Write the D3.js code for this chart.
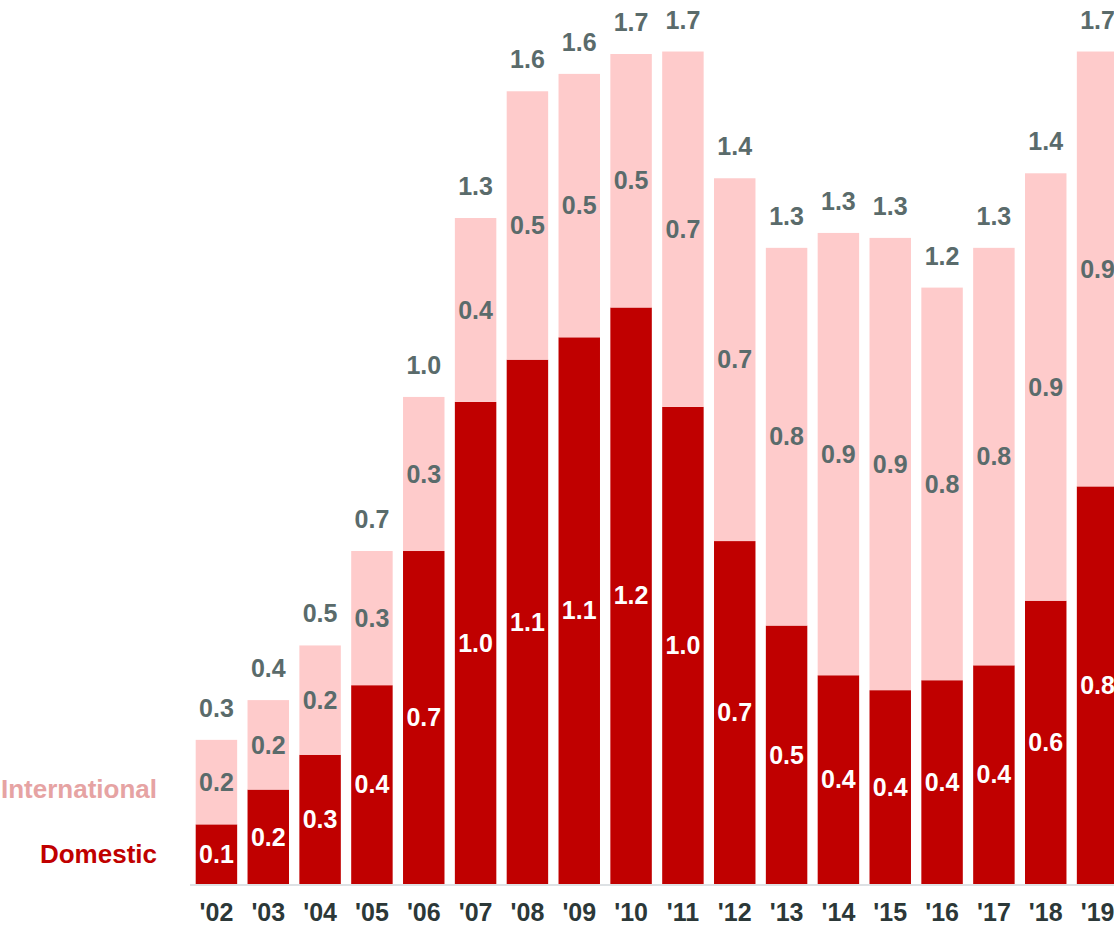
<!DOCTYPE html>
<html>
<head>
<meta charset="utf-8">
<script src="https://cdn.jsdelivr.net/npm/d3@7"></script>
<style>
  html, body { margin: 0; padding: 0; background: #fff; }
  svg { display: block; }
  text { font-family: "Liberation Sans", Arial, sans-serif; font-weight: bold; }
</style>
</head>
<body>
<svg id="chart" width="1114" height="925"></svg>
<script>
const years = ["'02","'03","'04","'05","'06","'07","'08","'09","'10","'11","'12","'13","'14","'15","'16","'17","'18","'19"];
const domestic = [0.12,0.19,0.26,0.40,0.67,0.97,1.055,1.10,1.16,0.96,0.69,0.52,0.42,0.39,0.41,0.44,0.57,0.80];
const international = [0.17,0.18,0.22,0.27,0.31,0.37,0.54,0.53,0.51,0.715,0.73,0.76,0.89,0.91,0.79,0.84,0.86,0.875];
const seriesNames = ["Domestic", "International"];

const W = 1114, H = 925;
const baseY = 884;
const svg = d3.select("#chart");

const x = d3.scaleBand().domain(years).range([195.7, 1118.3]).paddingInner(0.2).paddingOuter(0);
const y = d3.scaleLinear().domain([0, 1]).range([baseY, baseY - 497]);

const colors = { Domestic: "#c00000", International: "#fecbcb" };
const fmt = d3.format(".1f");
const data = years.map((yr, i) => ({ year: yr, Domestic: domestic[i], International: international[i] }));
const stack = d3.stack().keys(seriesNames)(data);
const FS = 25;

// bars
const g = svg.append("g");
stack.forEach(layer => {
  g.selectAll(null).data(layer).enter().append("rect")
    .attr("x", d => x(d.data.year))
    .attr("width", x.bandwidth())
    .attr("y", d => y(d[1]))
    .attr("height", d => y(d[0]) - y(d[1]))
    .attr("fill", colors[layer.key]);
});

// segment labels
stack.forEach(layer => {
  g.selectAll(null).data(layer).enter().append("text")
    .attr("x", d => x(d.data.year) + x.bandwidth() / 2)
    .attr("y", d => (y(d[0]) + y(d[1])) / 2)
    .attr("dy", "0.35em")
    .attr("text-anchor", "middle")
    .attr("font-size", FS)
    .attr("fill", layer.key === "Domestic" ? "#ffffff" : "#5a6b6b")
    .text(d => fmt(d[1] - d[0]));
});

// totals
g.selectAll(null).data(data).enter().append("text")
  .attr("x", d => x(d.year) + x.bandwidth() / 2)
  .attr("y", d => y(d.Domestic + d.International) - 23)
  .attr("text-anchor", "middle")
  .attr("font-size", FS)
  .attr("fill", "#5a6b6b")
  .text(d => fmt(d.Domestic + d.International));

// baseline
svg.append("line")
  .attr("x1", 190).attr("x2", W)
  .attr("y1", baseY + 1).attr("y2", baseY + 1)
  .attr("stroke", "#dde1e4").attr("stroke-width", 2);

// x axis labels
const xAxis = d3.axisBottom(x).tickSize(0).tickPadding(0);
const ax = svg.append("g").attr("transform", `translate(0,${baseY})`).call(xAxis);
ax.select(".domain").remove();
ax.selectAll("text")
  .attr("y", 37)
  .attr("dy", 0)
  .attr("font-size", FS)
  .attr("font-family", "Liberation Sans, Arial, sans-serif")
  .attr("font-weight", "bold")
  .attr("fill", "#2c3838");

// legend aligned with first bar segments
const legendColors = { Domestic: "#c00000", International: "#e6a3a3" };
stack.forEach(layer => {
  const d = layer[0];
  svg.append("text")
    .attr("x", 157)
    .attr("y", (y(d[0]) + y(d[1])) / 2)
    .attr("dy", layer.key === "Domestic" ? "0.35em" : "0.6em")
    .attr("text-anchor", "end")
    .attr("font-size", 26)
    .attr("fill", legendColors[layer.key])
    .text(layer.key);
});
</script>
</body>
</html>
